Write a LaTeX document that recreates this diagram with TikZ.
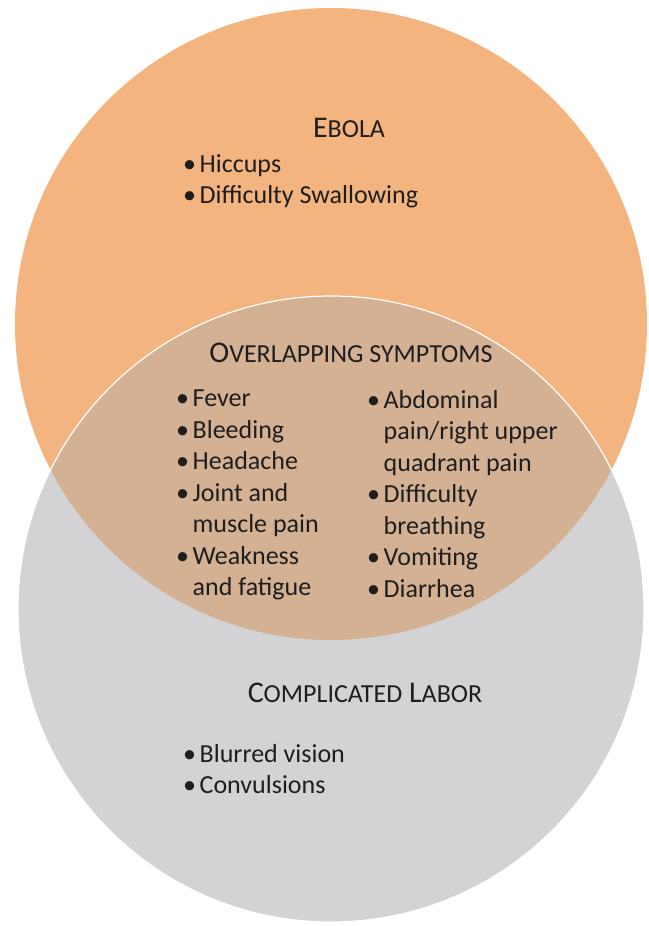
\documentclass[tikz,border=0pt]{standalone}
\usepackage{fontspec}
\setmainfont{Carlito}
\usepackage{tikz}
\usetikzlibrary{positioning}
\definecolor{ebolaorange}{HTML}{F3B47F}
\definecolor{laborgray}{HTML}{D3D3D5}
\definecolor{overlapbrown}{HTML}{D4B193}
\definecolor{txtdark}{HTML}{1E1E1E}
\newcommand\smc[1]{{\fontsize{26}{30}\selectfont #1}}
\newcommand\itm{\makebox[16.5pt][l]{\textbullet}}
\newcommand\cont{\hspace*{16.5pt}}

\begin{document}
\begin{tikzpicture}[x=1pt, y=-1pt,
	   ttl/.style={font=\fontsize{30}{34}\selectfont, text=txtdark, inner sep=0pt},
	   lst/.style={font=\fontsize{26}{31.5}\selectfont, text=txtdark, align=left, inner sep=0pt, anchor=north west},
	   ring/.style={draw=white, line width=1.2pt}]
	  \useasboundingbox (0,0) rectangle (648,926);
	  % the two sets and their overlap
	  \fill[ebolaorange] (331,324) circle (316);
	  \fill[laborgray] (331,609) circle (313);
	  \begin{scope}
	    \clip (331,324) circle (316);
	    \fill[overlapbrown] (331,609) circle (313);
	  \end{scope}
	  \draw[ring] (331,609) circle (313);
	  % ebola only
	  \node[ttl] (ebola) at (349,128) {E\smc{BOLA}};
	  \node[lst] (ebolalist) at (183,154) {\itm Hiccups\\ \itm Difficulty Swallowing};
	  % both
	  \node[ttl] (overlap) at (351,353) {O\smc{VERLAPPING SYMPTOMS}};
	  \node[lst] (leftlist) at (176,390) {\itm Fever\\ \itm Bleeding\\ \itm Headache\\ \itm Joint and\\ \cont muscle pain\\ \itm Weakness\\ \cont and fatigue};
	  \node[lst] (rightlist) at (367,390) {\itm Abdominal\\ \cont pain/right upper\\ \cont quadrant pain\\ \itm Difficulty\\ \cont breathing\\ \itm Vomiting\\ \itm Diarrhea};
	  % labor only
	  \node[ttl] (labor) at (365,693) {C\smc{OMPLICATED} L\smc{ABOR}};
	  \node[lst] (laborlist) at (183,744) {\itm Blurred vision\\ \itm Convulsions};
	\end{tikzpicture}
\end{document}
